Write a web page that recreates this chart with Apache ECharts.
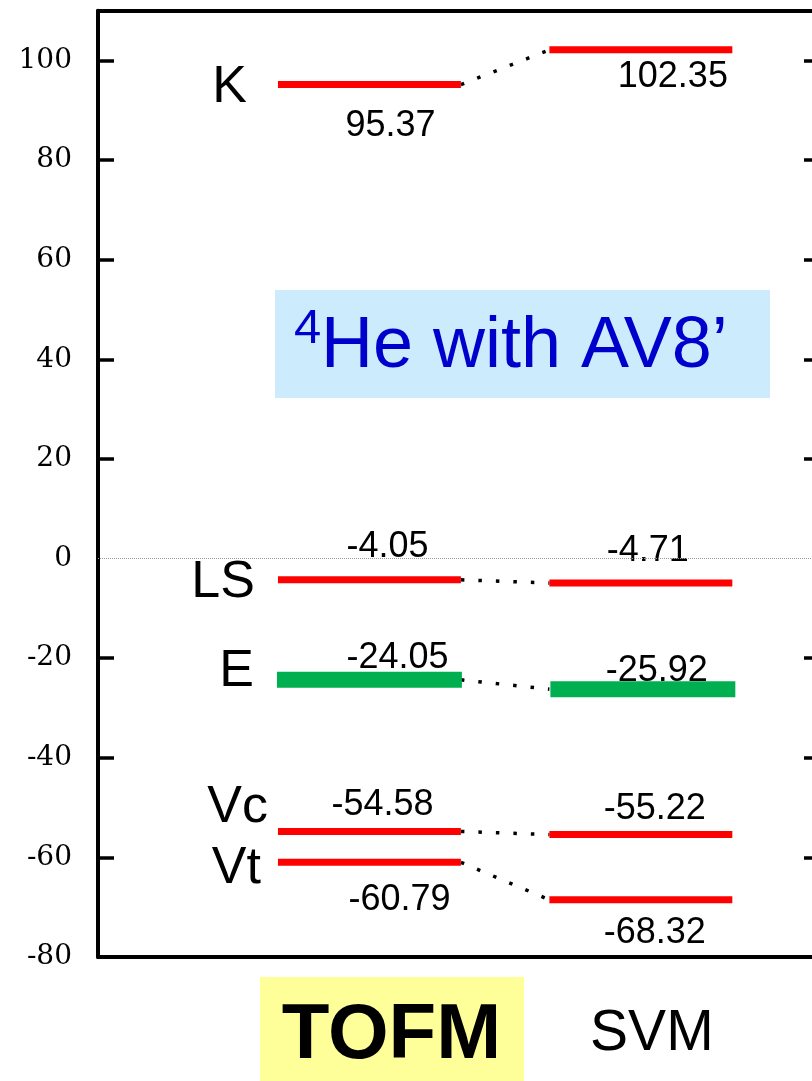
<!DOCTYPE html>
<html>
<head>
<meta charset="utf-8">
<script src="https://cdn.jsdelivr.net/npm/echarts@6/dist/echarts.min.js"></script>
<style>
html,body{margin:0;padding:0;background:#fff;overflow:hidden;}
#c{width:830px;height:1081px;}
</style>
</head>
<body>
<div id="c"></div>
<script>
// ---- data ----
const methods = ['TOFM', 'SVM'];
const terms = ['K', 'LS', 'E', 'Vc', 'Vt'];
const tofmValues = [95.37, -4.05, -24.05, -54.58, -60.79];
const svmValues = [102.35, -4.71, -25.92, -55.22, -68.32];
const yTickValues = [-80, -60, -40, -20, 0, 20, 40, 60, 80, 100];
const titleMain = 'He with AV8\u2019';
const titleSup = '4';

// ---- styling / label placement (pixels) ----
const HALF = 0.337;           // half width of a level bar in x-axis units
const valueLabelOffsets = [   // [dx, dy] from bar centre / bar value
  [[21, 42.5], [18, -31.5], [28, -20], [13, -25.5], [30, 38.5]],
  [[32, 28], [7, -30.5], [16, -17], [14, -24.7], [14, 34]]
];
const nameLabelOffsets = [[-31, 4.5], [-23, 3.5], [-23, -6.6], [-10, -22.5], [-17, 7]];
const FONT = '"Liberation Sans", Arial, sans-serif';

const levelData = [];
methods.forEach((m, mi) => {
  const vals = mi === 0 ? tofmValues : svmValues;
  vals.forEach((v, ti) => levelData.push([mi + 1, v, ti]));
});
const connectorData = terms.map((t, i) => [1, tofmValues[i], 2, svmValues[i], i]);

const chart = echarts.init(document.getElementById('c'));
const axisLineStyle = { color: '#000', width: 4 };
const tickVals = [-60, -40, -20, 20, 40, 60, 80, 100];

chart.setOption({
  animation: false,
  grid: { left: 98, right: 10, top: 10.75, bottom: 124 },
  xAxis: [
    {
      type: 'value', min: 0, max: 2.66, position: 'bottom',
      axisLine: { show: true, onZero: false, lineStyle: axisLineStyle },
      axisTick: { show: false }, splitLine: { show: false },
      axisLabel: {
        customValues: [1, 2], margin: 10,
        formatter: v => Math.round(v) === 1 ? '{g|}{a|' + methods[0] + '}' : '{h|}{b|' + methods[1] + '}',
        rich: {
          g: { width: 44, lineHeight: 10 },
          a: { width: 264, lineHeight: 138, align: 'center',
               fontSize: 78, fontWeight: 'bold', fontFamily: FONT, color: '#000' },
          h: { width: 22, lineHeight: 10 },
          b: { fontSize: 57, fontFamily: FONT, color: '#000', lineHeight: 134 }
        }
      }
    },
    {
      type: 'value', min: 0, max: 2.66, position: 'top',
      axisLine: { show: true, onZero: false, lineStyle: axisLineStyle },
      axisTick: { show: false }, axisLabel: { show: false }, splitLine: { show: false }
    }
  ],
  yAxis: [
    {
      type: 'value', min: -80, max: 110, interval: 20, position: 'left',
      axisLine: { show: true, onZero: false, lineStyle: axisLineStyle },
      axisTick: { show: true, inside: true, length: 16, customValues: tickVals, lineStyle: { color: '#000', width: 3.5 } },
      axisLabel: { customValues: yTickValues, margin: 26, fontFamily: '"DejaVu Serif", serif', fontSize: 28, color: '#000' },
      splitLine: { show: false }
    },
    {
      type: 'value', min: -80, max: 110, interval: 20, position: 'right',
      axisLine: { show: true, onZero: false, lineStyle: axisLineStyle },
      axisTick: { show: true, inside: true, length: 16, customValues: tickVals, lineStyle: { color: '#000', width: 3.5 } },
      axisLabel: { show: false }, splitLine: { show: false }
    }
  ],
  graphic: [
    { type: 'rect', shape: { x: 260, y: 977, width: 264, height: 104 }, style: { fill: '#FFFF99' }, z: -1 },
    { type: 'rect', shape: { x: 275, y: 290, width: 495, height: 108 }, style: { fill: '#CCECFD' }, z: 1 },
    { type: 'text', x: 294, y: 329, style: { text: titleSup, fontSize: 49, fontFamily: FONT, fill: '#0000CC', align: 'left', verticalAlign: 'middle' }, z: 2 },
    { type: 'text', x: 321, y: 347, style: { text: titleMain, fontSize: 72, fontFamily: FONT, fill: '#0000CC', align: 'left', verticalAlign: 'middle' }, z: 2 }
  ],
  series: [
    {
      type: 'custom', name: 'connectors', xAxisIndex: 0, yAxisIndex: 0,
      data: connectorData, encode: { x: [0, 2], y: [1, 3] },
      renderItem: (params, api) => {
        const i = api.value(4);
        const c1 = api.coord([api.value(0), api.value(1)]);
        const c2 = api.coord([api.value(2), api.value(3)]);
        const hw = api.size([HALF, 0])[0];
        const off = terms[i] === 'E' ? 1.5 : 1;
        return {
          type: 'line',
          shape: { x1: c1[0] + hw, y1: c1[1] + off, x2: c2[0] - hw, y2: c2[1] + off },
          style: { stroke: '#000', lineWidth: 3.5, lineDash: [3.5, 14] }
        };
      },
      markLine: {
        silent: true, symbol: 'none', label: { show: false },
        lineStyle: { color: '#999', type: 'dotted', width: 1 },
        data: [{ yAxis: 0 }]
      }
    },
    {
      type: 'custom', name: 'levels', xAxisIndex: 0, yAxisIndex: 0,
      data: levelData, encode: { x: 0, y: 1 },
      renderItem: (params, api) => {
        const mi = api.value(0) - 1;
        const v = api.value(1);
        const ti = api.value(2);
        const c = api.coord([mi + 1, v]);
        let hw = api.size([HALF, 0])[0];
        const isE = terms[ti] === 'E';
        const h = isE ? 16 : 7;
        if (isE) hw += 1;
        const shift = (isE && mi === 1) ? 2 : 0;
        const off = valueLabelOffsets[mi][ti];
        const yc = c[1] + (isE ? 1.5 : 1);
        const children = [
          { type: 'rect', shape: { x: c[0] - hw + shift, y: yc - h / 2, width: 2 * hw, height: h },
            style: { fill: isE ? '#00B050' : '#FF0000' } },
          { type: 'text', x: c[0] + off[0], y: c[1] + off[1],
            style: { text: v.toFixed(2), fontSize: 36, fontFamily: FONT, fill: '#000', align: 'center', verticalAlign: 'middle' } }
        ];
        if (mi === 0) {
          const no = nameLabelOffsets[ti];
          children.push({ type: 'text', x: c[0] - hw + no[0], y: c[1] + no[1],
            style: { text: terms[ti], fontSize: 52, fontFamily: FONT, fill: '#000', align: 'right', verticalAlign: 'middle' } });
        }
        return { type: 'group', children };
      }
    }
  ]
});
</script>
</body>
</html>
